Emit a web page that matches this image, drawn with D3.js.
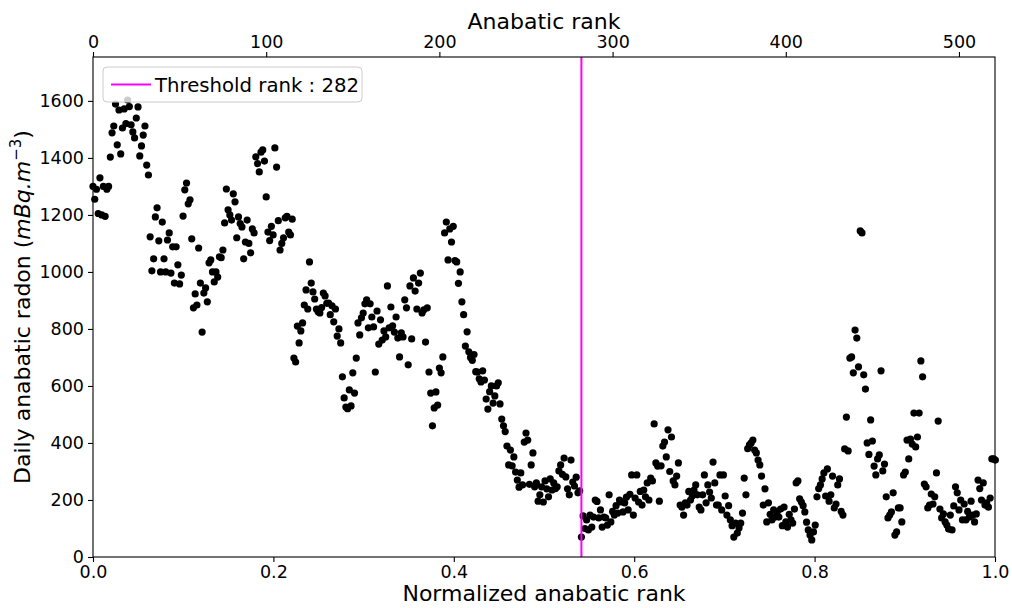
<!DOCTYPE html>
<html>
<head>
<meta charset="utf-8">
<script src="https://cdn.jsdelivr.net/npm/d3@7"></script>
<style>
  body { margin: 0; background: #fff; }
  text { font-family: "DejaVu Sans", sans-serif; }
</style>
</head>
<body>
<div id="chart"></div>
<script>
// daily anabatic radon, sorted by anabatic rank (index = rank)
var radon = [
  1300,1255,1290,1205,1330,1200,1300,1195,1290,1300,
  1403,1488,1512,1589,1446,1568,1414,1505,1572,1520,
  1603,1580,1516,1491,1470,1540,1579,1407,1442,1480,
  1512,1375,1340,1123,1004,1046,1193,1225,1109,1000,
  1175,1046,1000,1112,1137,996,1088,961,
  1088,1025,958,989,1196,1288,1312,1239,1253,1116,
  874,923,884,1084,961,789,926,944,895,1032,
  1042,1000,965,1000,982,1053,1050,1077,1172,1291,
  1218,1200,1182,1274,1246,1120,1193,1170,1158,1046,
  1105,1182,1100,1067,1151,1137,1404,1380,1351,1420,
  1428,1389,1263,1140,
  1110,1160,1130,1435,1368,1180,1077,1100,1120,1190,
  1195,1140,1130,1185,698,684,
  810,751,793,821,884,937,870,1035,961,930,
  905,870,860,856,875,926,916,890,891,850,
  881,825,870,775,800,751,632,558,526,520,
  586,530,646,575,698,
  821,779,839,856,888,902,804,888,842,807,
  649,863,747,832,761,793,772,951,804,877,
  811,789,842,768,702,786,772,902,874,674,
  951,765,979,933,870,961,996,856,867,754,
  874,649,575,460,523,579,533,663,646,702,
  1137,1175,1042,
  1151,1105,1160,1040,1035,960,1000,895,850,740,
  790,720,700,690,710,650,
  649,625,614,653,621,554,519,580,600,540,
  565,600,611,537,484,460,440,389,323,375,
  320,351,298,270,245,295,253,403,435,410,
  255,323,365,246,260,196,
  218,246,193,267,239,211,274,235,260,240,
  246,302,323,290,347,281,239,218,340,263,
  249,280,225,232,70,
  144,100,130,95,147,105,140,200,195,137,
  165,105,140,137,112,218,123,160,147,180,
  154,200,193,158,190,210,165,220,
  288,147,207,288,193,230,182,235,211,260,
  200,277,267,467,330,319,196,320,389,403,
  351,446,300,421,267,253,284,330,182,175,
  147,190,182,230,200,214,235,253,218,175,
  165,218,288,190,253,228,207,333,260,182,
  182,288,
  165,288,214,147,180,130,110,70,119,84,
  102,119,154,277,218,380,393,400,410,375,
  365,340,323,284,182,239,123,190,150,130,
  165,140,158,140,168,110,175,123,105,150,
  130,119,168,260,267,204,193,180,158,122,
  95,77,60,
  88,112,211,240,253,274,295,214,309,196,
  218,284,172,186,253,274,160,147,379,491,
  372,698,702,646,796,768,667,1144,1137,639,
  589,400,360,481,407,319,288,344,358,653,
  302,326,211,137,147,158,225,77,88,172,
  172,123,288,298,410,344,414,396,505,386,
  421,505,688,632,256,246,172,182,221,186,
  211,295,477,168,137,151,123,112,98,147,
  95,179,246,225,165,200,130,186,130,160,
  140,196,147,123,151,270,240,200,260,182,
  190,175,207,344,344,340
];
var thresholdRank = 282;
var yTicks = [0, 200, 400, 600, 800, 1000, 1200, 1400, 1600];
var xTicks = [0, 0.2, 0.4, 0.6, 0.8, 1.0];
var rankTicks = [0, 100, 200, 300, 400, 500];

var width = 1012, height = 608;
var margin = { top: 57, right: 17, bottom: 51, left: 93 };
var plotW = width - margin.left - margin.right;
var plotH = height - margin.top - margin.bottom;

var svg = d3.select("#chart")
  .append("svg")
  .attr("width", width)
  .attr("height", height);

var g = svg.append("g")
  .attr("transform", "translate(" + margin.left + "," + margin.top + ")");

// scales
var xRank = d3.scaleLinear().domain([0, 520.8]).range([0, plotW]);
var xNorm = d3.scaleLinear().domain([0, 1]).range([0, plotW]);
var y = d3.scaleLinear().domain([0, 1754]).range([plotH, 0]);

// points
g.selectAll(".dot")
  .data(radon)
  .enter()
  .append("circle")
  .attr("class", "dot")
  .attr("cx", function(d, i) { return xRank(i); })
  .attr("cy", function(d) { return y(d); })
  .attr("r", 3.6)
  .attr("fill", "#000");

// threshold line
g.append("line")
  .attr("x1", xRank(thresholdRank)).attr("x2", xRank(thresholdRank))
  .attr("y1", 0).attr("y2", plotH)
  .style("stroke", "#ff00ff")
  .style("stroke-width", "2px");

// axes
var xAxis = g.append("g")
  .attr("transform", "translate(0," + plotH + ")")
  .call(d3.axisBottom(xNorm).tickValues(xTicks).tickFormat(d3.format(".1f")).tickSizeOuter(0).tickSize(5).tickPadding(4));
var topAxis = g.append("g")
  .call(d3.axisTop(xRank).tickValues(rankTicks).tickFormat(d3.format("d")).tickSizeOuter(0).tickSize(5).tickPadding(4));
var yAxis = g.append("g")
  .call(d3.axisLeft(y).tickValues(yTicks).tickFormat(d3.format("d")).tickSizeOuter(0).tickSize(5).tickPadding(4));

[xAxis, topAxis, yAxis].forEach(function(a) {
  a.selectAll("text").style("font-size", "17.5px").attr("fill", "#000").style("font-family", "DejaVu Sans");
  a.selectAll("line").attr("stroke", "#000").attr("stroke-width", 1.1);
  a.select(".domain").remove();
});

// frame
g.append("rect")
  .attr("x", 0).attr("y", 0)
  .attr("width", plotW).attr("height", plotH)
  .attr("fill", "none")
  .attr("stroke", "#000")
  .attr("stroke-width", 1.1);

// labels
svg.append("text")
  .attr("x", margin.left + plotW / 2).attr("y", 601)
  .attr("text-anchor", "middle")
  .style("font-size", "22px")
  .text("Normalized anabatic rank");

svg.append("text")
  .attr("x", margin.left + plotW / 2).attr("y", 29)
  .attr("text-anchor", "middle")
  .style("font-size", "22px")
  .text("Anabatic rank");

var ylab = svg.append("text")
  .attr("transform", "translate(30," + (margin.top + plotH / 2) + ") rotate(-90)")
  .attr("text-anchor", "middle")
  .style("font-size", "22px");
ylab.append("tspan").text("Daily anabatic radon (");
ylab.append("tspan").style("font-style", "italic").text("mBq.m");
ylab.append("tspan").attr("dy", -9).style("font-size", "15px").text("\u22123");
ylab.append("tspan").attr("dy", 9).text(")");

// legend
var legend = g.append("g").attr("transform", "translate(10,10)");
legend.append("rect")
  .attr("width", 259).attr("height", 35)
  .attr("rx", 4).attr("ry", 4)
  .attr("fill", "#fff").attr("fill-opacity", 0.8)
  .attr("stroke", "#cccccc").attr("stroke-width", 1);
legend.append("line")
  .attr("x1", 8).attr("x2", 48).attr("y1", 17.5).attr("y2", 17.5)
  .style("stroke", "#ff00ff").style("stroke-width", "2px");
legend.append("text")
  .attr("x", 52).attr("y", 24.5)
  .style("font-size", "19.7px")
  .text("Threshold rank : " + thresholdRank);
</script>
</body>
</html>
